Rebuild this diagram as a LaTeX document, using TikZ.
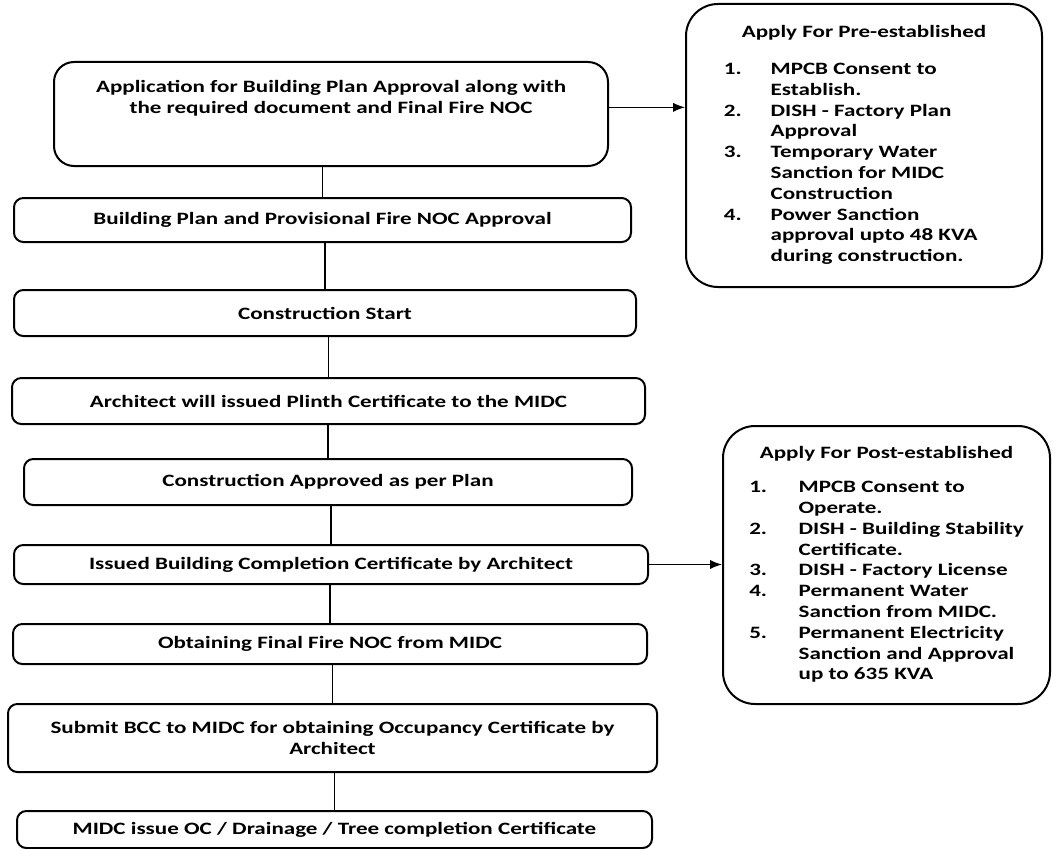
\documentclass[tikz,border=0pt]{standalone}
\usepackage{fontspec}
\setmainfont{Carlito}[FakeStretch=1.33]
\usetikzlibrary{arrows.meta}
\usetikzlibrary{scopes}

\begin{document}
\begin{tikzpicture}[x=0.75pt,y=-0.75pt,
        stepbox/.style={draw,line width=1.5pt,rounded corners=7pt,align=center,
            inner sep=0pt,font=\fontsize{13}{15.6}\selectfont\bfseries},
        sidebox/.style={draw,line width=1.5pt,rounded corners=24pt,align=left,
            inner sep=0pt,font=\fontsize{13}{15.6}\selectfont\bfseries},
        link/.style={line width=1pt},
        feed/.style={line width=1pt,-{Latex[length=9pt,width=7pt]}}]
    \useasboundingbox (0,0) rectangle (1053,849);
    { [every node/.style=stepbox]
        \node[minimum width=415.5pt,minimum height=78pt,rounded corners=15pt,text depth=26pt] (apply) at (331,114)
            {Application for Building Plan Approval along with\\the required document and Final Fire NOC};
        \node[minimum width=462.75pt,minimum height=33pt] (plan) at (322.5,220)
            {Building Plan and Provisional Fire NOC Approval};
        \node[minimum width=466.5pt,minimum height=34.5pt] (start) at (325,313)
            {Construction Start};
        \node[minimum width=474.75pt,minimum height=34.5pt] (plinth) at (328.5,401)
            {Architect will issued Plinth Certificate to the MIDC};
        \node[minimum width=456pt,minimum height=34.5pt] (approved) at (328,482)
            {Construction Approved as per Plan};
        \node[minimum width=475.5pt,minimum height=29.25pt] (bcc) at (331,564.5)
            {Issued Building Completion Certificate by Architect};
        \node[minimum width=475.5pt,minimum height=30pt] (fire) at (330,644)
            {Obtaining Final Fire NOC from MIDC};
        \node[minimum width=486.75pt,minimum height=51pt] (submit) at (332.5,738)
            {Submit BCC to MIDC for obtaining Occupancy Certificate by\\Architect};
        \node[minimum width=476.25pt,minimum height=27.75pt] (oc) at (334.5,829.5)
            {MIDC issue OC / Drainage / Tree completion Certificate};
    }
    { [every node/.style=sidebox]
        \node[minimum width=267pt,minimum height=212.25pt] (pre) at (864,145.5) {%
            \begin{tabular}{@{}p{35pt}@{}l@{\hspace{20pt}}}
                \multicolumn{2}{@{}c@{}}{Apply For Pre-established}\\[12pt]
                1. & MPCB Consent to\\
                   & Establish.\\
                2. & DISH - Factory Plan\\
                   & Approval\\
                3. & Temporary Water\\
                   & Sanction for MIDC\\
                   & Construction\\
                4. & Power Sanction\\
                   & approval upto 48 KVA\\
                   & during construction.
            \end{tabular}};
        \node[minimum width=245.25pt,minimum height=208.5pt] (post) at (886.5,565) {%
            \begin{tabular}{@{}p{37pt}@{}l@{}}
                \multicolumn{2}{@{}c@{}}{Apply For Post-established}\\[10pt]
                1. & MPCB Consent to\\
                   & Operate.\\
                2. & DISH - Building Stability\\
                   & Certificate.\\
                3. & DISH - Factory License\\
                4. & Permanent Water\\
                   & Sanction from MIDC.\\
                5. & Permanent Electricity\\
                   & Sanction and Approval\\
                   & up to 635 KVA
            \end{tabular}};
    }
    { [link]
        \draw (apply.south -| plan.north) -- (plan.north);
        \draw (plan.south -| start.north) -- (start.north);
        \draw (start.south -| plinth.north) -- (plinth.north);
        \draw (plinth.south -| approved.north) -- (approved.north);
        \draw (approved.south -| bcc.north) -- (bcc.north);
        \draw (bcc.south -| fire.north) -- (fire.north);
        \draw (fire.south -| submit.north) -- (submit.north);
        \draw (submit.south -| oc.north) -- (oc.north);
    }
    { [feed]
        \draw ([yshift=5pt]apply.east) -- ([yshift=5pt]apply.east -| pre.west);
        \draw (bcc.east) -- (bcc.east -| post.west);
    }
\end{tikzpicture}
\end{document}
